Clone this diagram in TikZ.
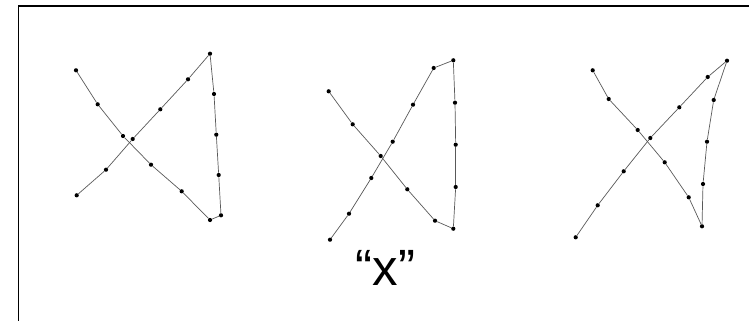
\documentclass[tikz,border=0pt]{standalone}
\usepackage{fontspec}
\setmainfont{Liberation Sans}
\usetikzlibrary{positioning}

\begin{document}
\begin{tikzpicture}[x=1pt,y=-1pt,
 dot/.style={circle,fill=black,inner sep=0pt,minimum size=4.2pt},
 stroke/.style={draw=black!65,line width=0.7pt},
 caption/.style={font=\fontsize{51}{51}\selectfont,inner sep=0pt,anchor=base}]
\useasboundingbox (0,0) rectangle (749,321);
% frame
\draw[line width=1.6pt] (18.5,321) -- (18.5,6) -- (749,6);
% left figure
\foreach \i/\x/\y in {1/76/70.3,2/97.7/104.3,3/123/136,4/151/164.7,5/181.7/191.3,6/210/220,7/221/215.3,8/218.7/175,
 9/216.3/134.7,10/214/94,11/210/53.7,12/188/79.3,13/160.3/109.3,14/132.7/139,15/106/169.7,16/76.7/195.3}
 \node[dot] (a\i) at (\x,\y) {};
\foreach \i [count=\j from 2] in {1,...,15} \draw[stroke] (a\i) -- (a\j);
% middle figure
\foreach \i/\x/\y in {1/328.7/91.3,2/352.7/124.3,3/380.7/156,4/407.3/189.3,5/435/220.7,6/453.3/228.7,7/455.7/187,8/455.7/144.7,
 9/455/102.7,10/453.3/60.3,11/433.7/68,12/413/104.7,13/392.7/141.7,14/371.3/178,15/349/213.7,16/330/239.7}
 \node[dot] (b\i) at (\x,\y) {};
\foreach \i [count=\j from 2] in {1,...,15} \draw[stroke] (b\i) -- (b\j);
% right figure
\foreach \i/\x/\y in {1/592.7/70.3,2/608.7/99,3/637.7/130,4/664.7/162.3,5/688.7/197.3,6/702/226.3,7/703/184,8/707/141.7,
 9/713.7/100,10/727/60.7,11/707.7/77,12/679.3/107.3,13/650.3/138,14/623.7/171.3,15/597.7/205.3,16/575.7/237.3}
 \node[dot] (c\i) at (\x,\y) {};
\foreach \i [count=\j from 2] in {1,...,15} \draw[stroke] (c\i) -- (c\j);
% label
\node[caption] (lbl) at (385.5,285) {“x”};
\end{tikzpicture}
\end{document}
